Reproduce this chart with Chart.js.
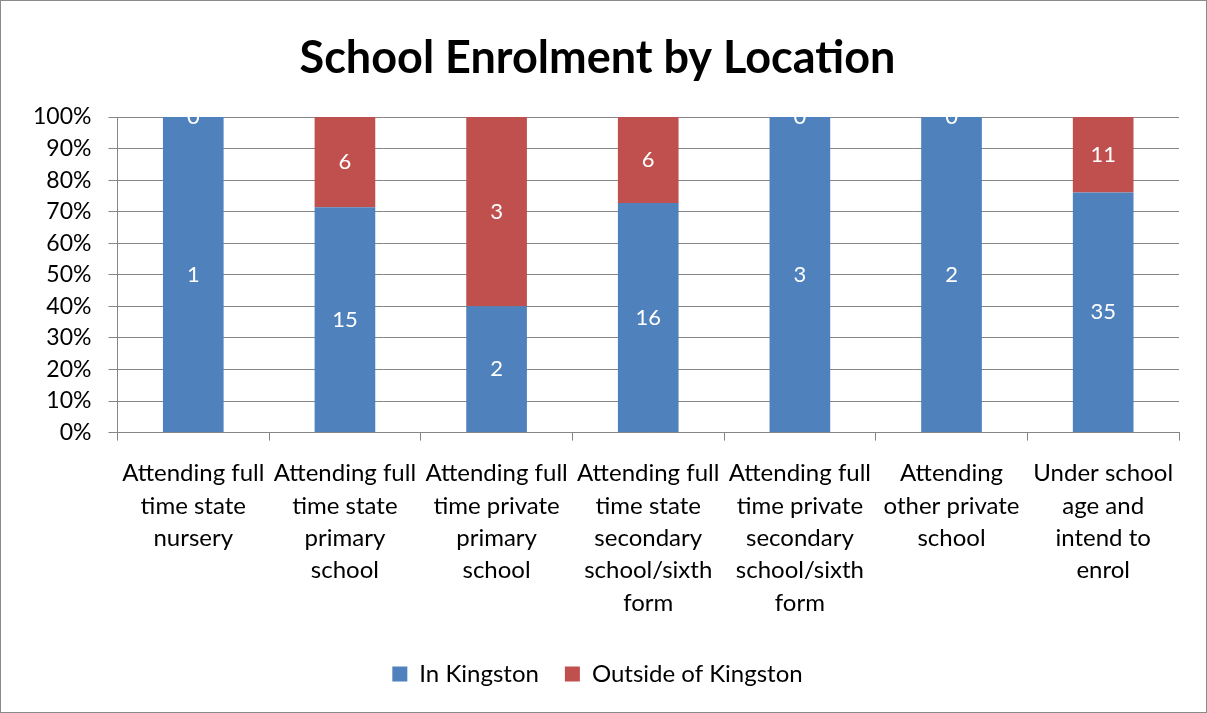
<!DOCTYPE html>
<html>
<head>
<meta charset="utf-8">
<script src="https://cdn.jsdelivr.net/npm/chart.js@4/dist/chart.umd.min.js"></script>
<style>
  html, body { margin: 0; padding: 0; background: #fff; }
  #wrap { position: relative; width: 1205px; height: 711px; border: 1px solid #8a8a8a; }
</style>
</head>
<body>
<div id="wrap"><canvas id="chart"></canvas></div>
<script>
// categories (wrapped like the original axis labels)
const categories = [
    ['Attending full', 'time state', 'nursery'],
    ['Attending full', 'time state', 'primary', 'school'],
    ['Attending full', 'time private', 'primary', 'school'],
    ['Attending full', 'time state', 'secondary', 'school/sixth', 'form'],
    ['Attending full', 'time private', 'secondary', 'school/sixth', 'form'],
    ['Attending', 'other private', 'school'],
    ['Under school', 'age and', 'intend to', 'enrol']
];
const inKingston = [1, 15, 2, 16, 3, 2, 35];
const outsideKingston = [0, 6, 3, 6, 0, 0, 11];
const yTicks = [0, 10, 20, 30, 40, 50, 60, 70, 80, 90, 100];

const FONT = 'Lato, "Open Sans", sans-serif';

// 100% stacked: convert counts to shares
function toPercent(arr) {
    return arr.map((v, i) => {
        let total = inKingston[i] + outsideKingston[i];
        return total ? v / total * 100 : 0;
    });
}
const rawByDataset = [inKingston, outsideKingston];

//Plugin for drawing the count in the middle of each segment
const segmentLabels = {
    id: 'segmentLabels',
    afterDatasetsDraw(chart) {
        const ctx = chart.ctx;
        const area = chart.chartArea;
        ctx.save();
        ctx.beginPath();
        ctx.rect(area.left, area.top, area.right - area.left, area.bottom - area.top);
        ctx.clip();
        ctx.fillStyle = '#ffffff';
        ctx.font = '22px ' + FONT;
        ctx.textAlign = 'center';
        ctx.textBaseline = 'middle';
        chart.data.datasets.forEach((ds, di) => {
            const meta = chart.getDatasetMeta(di);
            meta.data.forEach((bar, i) => {
                const y = (bar.y + bar.base) / 2;
                ctx.fillText(String(rawByDataset[di][i]), bar.x, y);
            });
        });
        ctx.restore();
    }
};

new Chart(document.getElementById('chart'), {
    type: 'bar',
    data: {
        labels: categories,
        datasets: [
            {
                label: 'In Kingston',
                data: toPercent(inKingston),
                backgroundColor: '#4F81BD',
                barPercentage: 0.4,
                categoryPercentage: 1
            },
            {
                label: 'Outside of Kingston',
                data: toPercent(outsideKingston),
                backgroundColor: '#C0504D',
                barPercentage: 0.4,
                categoryPercentage: 1
            }
        ]
    },
    options: {
        responsive: true,
        maintainAspectRatio: false,
        animation: false,
        events: [],
        layout: { padding: { left: 15, right: 27, top: 10, bottom: 16 } },
        plugins: {
            title: {
                display: true,
                text: 'School Enrolment by Location',
                color: '#000',
                font: { family: FONT, size: 45, weight: 'bold' },
                padding: { top: 20, bottom: 32 }
            },
            legend: {
                position: 'bottom',
                labels: {
                    color: '#000',
                    font: { family: FONT, size: 24 },
                    boxWidth: 15,
                    boxHeight: 15,
                    padding: 26
                }
            },
            tooltip: { enabled: false }
        },
        scales: {
            x: {
                stacked: true,
                grid: {
                    offset: true,
                    drawOnChartArea: false,
                    color: '#868686',
                    tickLength: 8
                },
                border: { color: '#868686' },
                ticks: {
                    color: '#000',
                    font: { family: FONT, size: 24, lineHeight: 1.345 },
                    maxRotation: 0,
                    autoSkip: false,
                    padding: 17
                }
            },
            y: {
                stacked: true,
                min: 0,
                max: 100,
                afterBuildTicks(axis) {
                    axis.ticks = yTicks.map(v => ({ value: v }));
                },
                grid: {
                    color: '#868686',
                    tickLength: 9
                },
                border: { color: '#868686' },
                ticks: {
                    color: '#000',
                    font: { family: FONT, size: 23 },
                    padding: 17,
                    callback: v => v + '%'
                }
            }
        }
    },
    plugins: [segmentLabels]
});
</script>
</body>
</html>
